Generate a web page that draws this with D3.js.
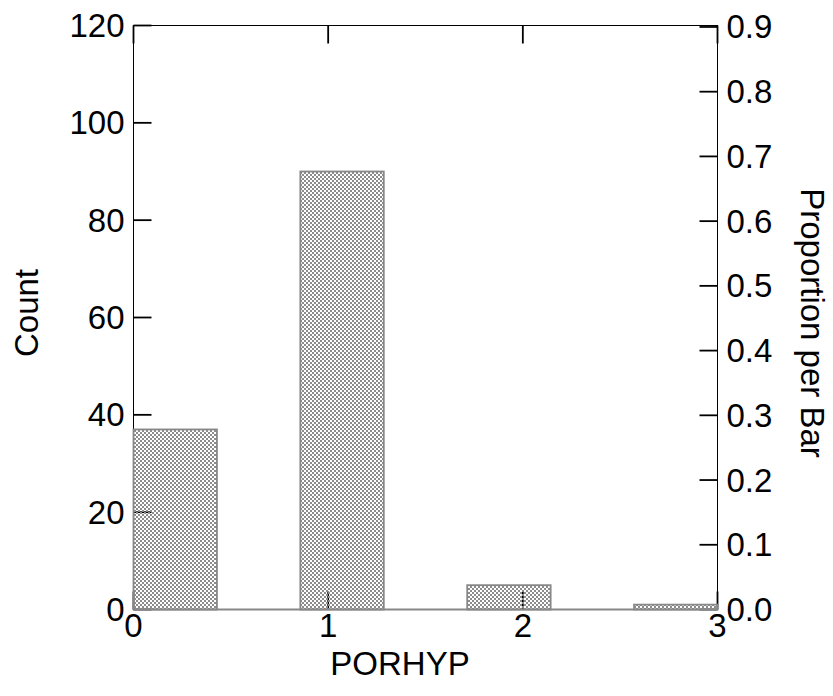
<!DOCTYPE html>
<html><head><meta charset="utf-8">
<script src="https://cdn.jsdelivr.net/npm/d3@7"></script>
<style>body{margin:0;background:#fff}svg{display:block}text{font-family:"Liberation Sans",Arial,sans-serif;fill:#000}</style>
</head><body><svg id="c" width="833" height="696"></svg>
<script>
const binEdges = [0, 0.4286, 0.8571, 1.2857, 1.7143, 2.1429, 2.5714, 3.0];
const binCounts = [37, 0, 90, 0, 5, 0, 1];
const xTicks = [0, 1, 2, 3];
const countTicks = [0, 20, 40, 60, 80, 100, 120];
const propTicks = [0.0, 0.1, 0.2, 0.3, 0.4, 0.5, 0.6, 0.7, 0.8, 0.9];
const xLabel = "PORHYP", yLabel = "Count", y2Label = "Proportion per Bar";

const total = d3.sum(binCounts);
const svg = d3.select("#c");
const L = 133.5, R = 717.5, T = 25.5, B = 609.5;
const x = d3.scaleLinear().domain([0, 3]).range([L, R]);
const y = d3.scaleLinear().domain([0, 120]).range([B, T]);
const y2 = d3.scaleLinear().domain([0, 120 / total]).range([B, T]);

const defs = svg.append("defs");
const pat = defs.append("pattern").attr("id", "hatch").attr("patternUnits", "userSpaceOnUse")
  .attr("width", 4).attr("height", 4);
pat.append("rect").attr("x", 0).attr("y", 0).attr("width", 2).attr("height", 2).attr("fill", "#8c8c8c");
pat.append("rect").attr("x", 2).attr("y", 2).attr("width", 2).attr("height", 2).attr("fill", "#8c8c8c");

const fs = 33;
// frame
svg.append("rect").attr("x", L).attr("y", T).attr("width", R - L).attr("height", B - T)
  .attr("fill", "none").attr("stroke", "#000").attr("stroke-width", 1);

// ticks (inward)
const tl = 18;
const ax = svg.append("g").attr("stroke", "#000").attr("stroke-width", 1.8);
countTicks.forEach(v => { ax.append("line").attr("x1", L).attr("x2", L + tl).attr("y1", y(v)).attr("y2", y(v)); });
propTicks.forEach(v => { ax.append("line").attr("x1", R).attr("x2", R - tl).attr("y1", y2(v)).attr("y2", y2(v)); });
xTicks.forEach(v => {
  ax.append("line").attr("x1", x(v)).attr("x2", x(v)).attr("y1", B).attr("y2", B - tl);
  ax.append("line").attr("x1", x(v)).attr("x2", x(v)).attr("y1", T).attr("y2", T + tl);
});

// bars
const bins = binCounts.map((c, i) => ({ x0: binEdges[i], x1: binEdges[i + 1], c })).filter(d => d.c > 0);
svg.append("g").selectAll("rect").data(bins).join("rect")
  .attr("x", d => x(d.x0)).attr("width", d => x(d.x1) - x(d.x0))
  .attr("y", d => y(d.c)).attr("height", d => y(0) - y(d.c))
  .attr("fill", "url(#hatch)").attr("stroke", "#888").attr("stroke-width", 1.8);
svg.append("line").attr("x1", L).attr("x2", R).attr("y1", B).attr("y2", B).attr("stroke", "#888").attr("stroke-width", 1.8);

// labels
const g = svg.append("g").style("font-size", fs + "px");
countTicks.forEach(v => g.append("text").attr("x", L - 9).attr("y", y(v)).attr("text-anchor", "end")
  .attr("dominant-baseline", "central").text(d3.format("d")(v)));
propTicks.forEach(v => g.append("text").attr("x", R + 9).attr("y", y2(v)).attr("text-anchor", "start")
  .attr("dominant-baseline", "central").text(d3.format(".1f")(v)));
xTicks.forEach(v => g.append("text").attr("x", x(v)).attr("y", 637).attr("text-anchor", "middle").text(v));
g.append("text").attr("x", 400).attr("y", 675).attr("text-anchor", "middle").text(xLabel);
g.append("text").attr("transform", "translate(38,313) rotate(-90)").attr("text-anchor", "middle").text(yLabel);
g.append("text").attr("transform", "translate(801,323) rotate(90)").attr("text-anchor", "middle").text(y2Label);
</script></body></html>
